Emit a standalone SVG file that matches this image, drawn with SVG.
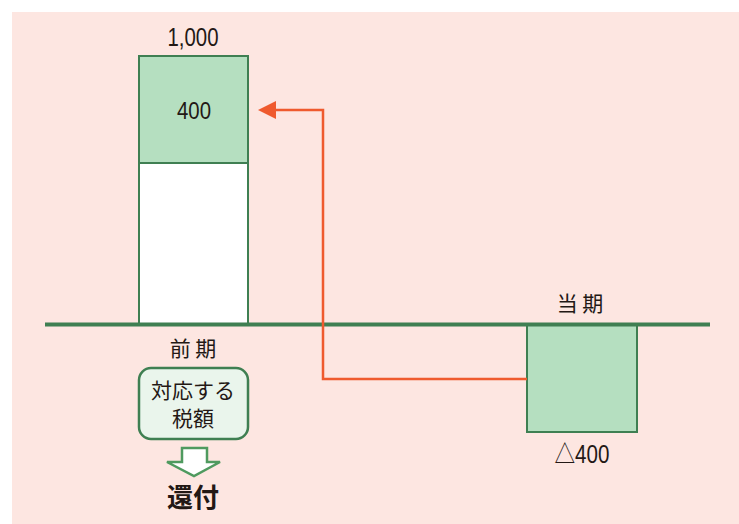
<svg xmlns="http://www.w3.org/2000/svg" width="739" height="524" viewBox="0 0 739 524">
<style>
.t{font-family:"Liberation Sans","Noto Sans CJK JP",sans-serif;fill:#231815;text-anchor:middle}
.j{font-family:"Noto Sans CJK JP",sans-serif;fill:#231815;text-anchor:middle}
.box{fill:#b5dfc0;stroke:#3f7f52;stroke-width:2}
.conn{fill:none;stroke:#ef5a2e;stroke-width:2.5}
</style>
<rect x="0" y="0" width="739" height="524" fill="#ffffff"/>
<rect x="12" y="12" width="727" height="512" fill="#fde6e1"/>
<g id="prev-bar">
<rect x="139" y="56" width="109" height="268" fill="#ffffff" stroke="#3f7f52" stroke-width="2"/>
<rect class="box" x="139" y="56" width="109" height="107"/>
<text class="t" x="193" y="46" font-size="25" textLength="51" lengthAdjust="spacingAndGlyphs">1,000</text>
<text class="t" x="194" y="119" font-size="24" textLength="34" lengthAdjust="spacingAndGlyphs">400</text>
</g>
<g id="cur-box">
<rect class="box" x="527" y="324" width="110" height="108"/>
<text class="j" x="580" y="311" font-size="21">当 期</text>
<text class="t" x="582" y="463" font-size="25" textLength="55" lengthAdjust="spacingAndGlyphs">△400</text>
</g>
<g id="baseline">
<line x1="45" y1="324.5" x2="710" y2="324.5" stroke="#3f7f52" stroke-width="4"/>
</g>
<g id="prev-label">
<text class="j" x="193" y="356" font-size="21">前 期</text>
</g>
<g id="tax-box">
<rect x="139" y="368" width="109" height="71" rx="12" ry="12" fill="#eaf5ec" stroke="#3f7f52" stroke-width="2.5"/>
<text class="j" x="193" y="398" font-size="21">対応する</text>
<text class="j" x="193" y="426" font-size="21">税額</text>
</g>
<g id="refund">
<polygon points="182,448 207,448 207,462 220,462 194,476 167,462 182,462" fill="#ffffff" stroke="#4f9a5f" stroke-width="2.5" stroke-linejoin="miter"/>
<text class="j" x="193" y="507" font-size="26" font-weight="bold">還付</text>
</g>
<g id="connectors">
<polyline class="conn" points="527,379 323,379 323,110 272,110"/>
<polygon points="258,110 276,101 276,119" fill="#ef5a2e"/>
</g>
</svg>
